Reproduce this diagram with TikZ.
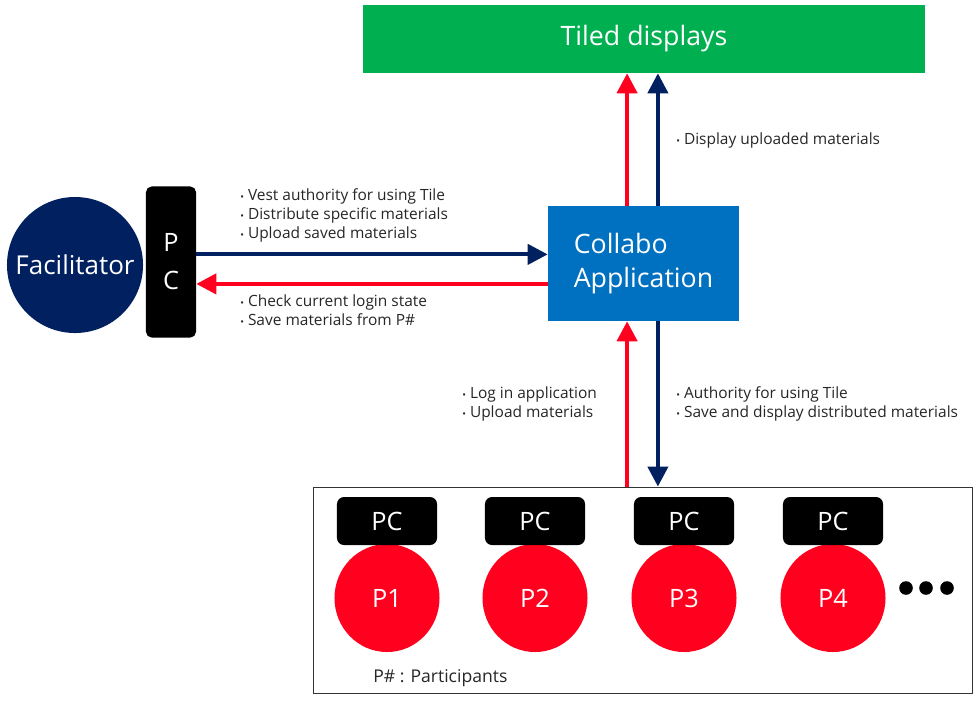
\documentclass[tikz,border=0pt]{standalone}
\usepackage{fontspec}
\setmainfont{Open Sans}
\usepackage{tikz}
\usetikzlibrary{shapes.geometric, arrows.meta, positioning, calc}
\definecolor{mynavy}{RGB}{0,32,96}
\definecolor{myred}{RGB}{255,0,30}
\definecolor{myblue}{RGB}{0,112,192}
\definecolor{mygreen}{RGB}{0,176,80}
\newcommand{\itm}{{\scriptsize\textbullet}\ }
\tikzset{
  tilebox/.style={rectangle, fill=mygreen, text=white, minimum width=14.05cm,
    minimum height=1.7cm, font=\fontsize{19}{22}\selectfont},
  facil/.style={circle, fill=mynavy, text=white, minimum size=3.4cm,
    inner sep=0pt, font=\fontsize{18.5}{22}\selectfont},
  pcbar/.style={rectangle, fill=black, text=white, minimum width=1.25cm,
    minimum height=3.775cm, rounded corners=4pt, align=center,
    font=\fontsize{18}{27}\selectfont},
  appbox/.style={rectangle, fill=myblue, text=white, minimum width=4.775cm,
    minimum height=2.875cm, align=left, font=\fontsize{19}{24}\selectfont},
  pcbox/.style={rectangle, fill=black, text=white, minimum width=2.5cm,
    minimum height=1.2cm, rounded corners=5pt, font=\fontsize{18}{20}\selectfont},
  partnode/.style={ellipse, fill=myred, text=white, minimum width=2.625cm,
    minimum height=2.7cm, inner sep=0pt, font=\fontsize{18}{20}\selectfont},
  note/.style={anchor=west, inner sep=0pt, align=left, text=black!85,
    font=\fontsize{11}{13.5}\selectfont},
  navyarrow/.style={-{Triangle[length=0.5cm, width=0.5cm]}, line width=0.1cm, color=mynavy},
  redarrow/.style={-{Triangle[length=0.5cm, width=0.5cm]}, line width=0.1cm, color=myred}
}

\begin{document}
\begin{tikzpicture}[x=0.025cm, y=-0.025cm]
  \useasboundingbox (0,0) rectangle (980,700);

  \node[tilebox] (tiles) at (644, 39)  {Tiled displays};
  \node[facil]   (facil) at (75, 265)  {Facilitator};
  \node[pcbar]   (pcbar) at (171, 262) {P \\ C};
  \node[appbox]  (app)   at (643.5, 263.5) {Collabo \\ Application};

  % participants
  \node[draw=black!80, line width=0.6pt, minimum width=16.45cm, minimum height=5.15cm,
    inner sep=0pt] (group) at (643, 590) {};
  \foreach \i/\x in {1/387, 2/535, 3/684, 4/833} {
    \node[partnode] (p\i) at (\x, 598) {P\i};
    \node[pcbox] (pc\i) at (\x, 521) {PC};
  }
  \foreach \x in {906, 926, 947}
    \fill (\x, 588) circle (0.17cm);
  \node[note, font=\fontsize{12.5}{15}\selectfont] (legend) at (373, 678) {P\# : Participants};

  % connectors
  \draw[navyarrow] ([yshift=0.19cm]pcbar.east) -- ([yshift=0.19cm]pcbar.east -| app.west);
  \draw[redarrow] ([yshift=-0.51cm]app.west) -- ([yshift=-0.51cm]app.west -| pcbar.east);
  \draw[redarrow] ([xshift=-0.41cm]app.north) -- ([xshift=-0.41cm]app.north |- tiles.south);
  \draw[navyarrow] ([xshift=0.36cm]app.north) -- ([xshift=0.36cm]app.north |- tiles.south);
  \draw[redarrow] ([xshift=-0.41cm]app.south |- group.north) -- ([xshift=-0.41cm]app.south);
  \draw[navyarrow] ([xshift=0.36cm]app.south) -- ([xshift=0.36cm]app.south |- group.north);

  % labels
  \node[note] (n1) at (240, 215) {\itm Vest authority for using Tile \\ \itm Distribute specific materials \\ \itm Upload saved materials};
  \node[note] (n2) at (240, 310) {\itm Check current login state \\ \itm Save materials from P\#};
  \node[note] (n3) at (676, 140) {\itm Display uploaded materials};
  \node[note] (n4) at (462, 404) {\itm Log in application \\ \itm Upload materials};
  \node[note] (n5) at (676, 404) {\itm Authority for using Tile \\ \itm Save and display distributed materials};
\end{tikzpicture}
\end{document}
